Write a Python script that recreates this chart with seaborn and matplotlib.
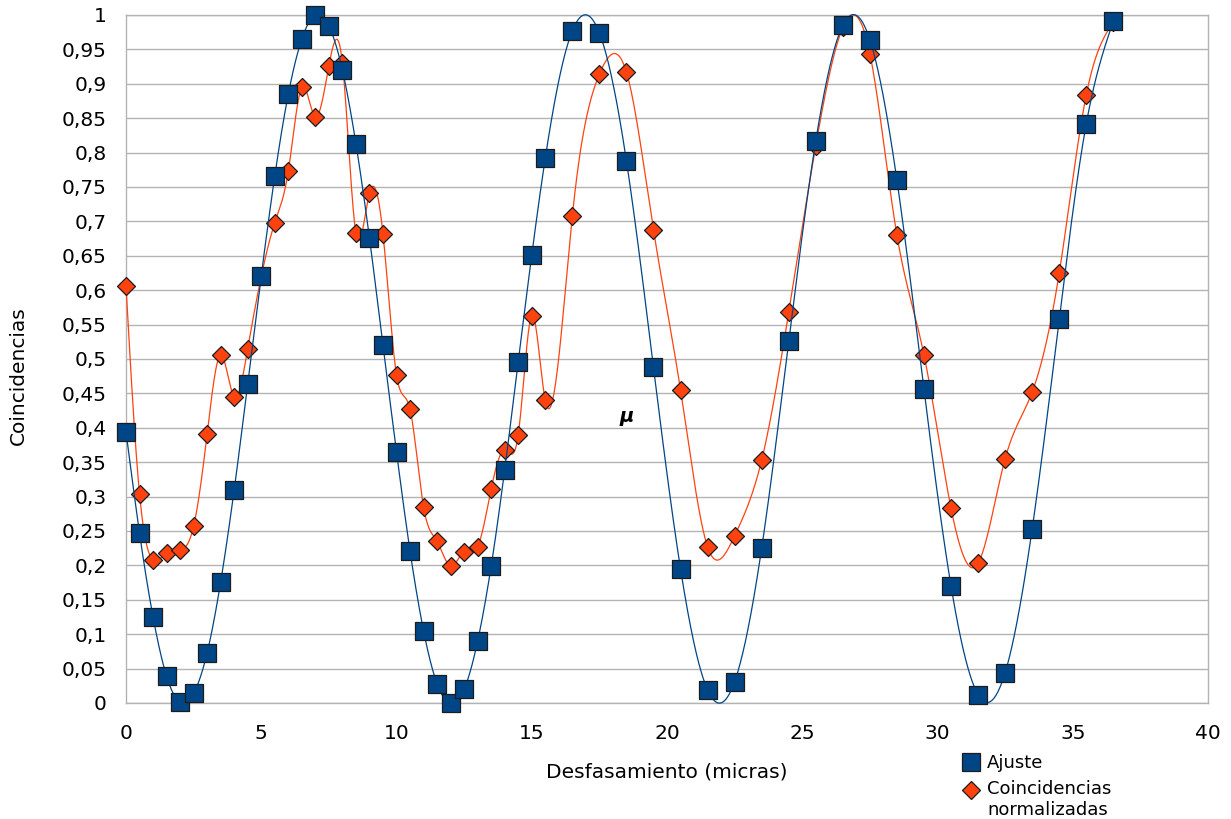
import numpy as np
import pandas as pd
import matplotlib
matplotlib.use("Agg")
import matplotlib.pyplot as plt
from matplotlib.lines import Line2D
from matplotlib.legend_handler import HandlerLine2D
import seaborn as sns

# ---------------- data ----------------
x_vals = [0, 0.5, 1, 1.5, 2, 2.5, 3, 3.5, 4, 4.5, 5, 5.5, 6, 6.5, 7, 7.5, 8, 8.5,
          9, 9.5, 10, 10.5, 11, 11.5, 12, 12.5, 13, 13.5, 14, 14.5, 15, 15.5,
          16.5, 17.5, 18.5, 19.5, 20.5, 21.5, 22.5, 23.5, 24.5, 25.5, 26.5,
          27.5, 28.5, 29.5, 30.5, 31.5, 32.5, 33.5, 34.5, 35.5, 36.5]

ajuste = [0.394, 0.247, 0.125, 0.039, 0.001, 0.014, 0.073, 0.176, 0.310, 0.464,
          0.621, 0.766, 0.885, 0.965, 1.000, 0.984, 0.920, 0.813, 0.676, 0.520,
          0.365, 0.221, 0.105, 0.028, 0.000, 0.020, 0.090, 0.199, 0.339, 0.496,
          0.651, 0.792, 0.977, 0.974, 0.788, 0.488, 0.195, 0.019, 0.031, 0.225,
          0.526, 0.817, 0.985, 0.964, 0.760, 0.456, 0.170, 0.012, 0.044, 0.253,
          0.558, 0.842, 0.991]

coincidencias = [0.606, 0.304, 0.208, 0.218, 0.222, 0.257, 0.391, 0.506, 0.445,
                 0.515, 0.620, 0.698, 0.773, 0.895, 0.852, 0.926, 0.930, 0.683,
                 0.741, 0.682, 0.477, 0.427, 0.285, 0.235, 0.199, 0.220, 0.227,
                 0.311, 0.368, 0.390, 0.563, 0.440, 0.708, 0.914, 0.917, 0.688,
                 0.455, 0.227, 0.243, 0.353, 0.568, 0.810, 0.982, 0.944, 0.680,
                 0.506, 0.283, 0.203, 0.355, 0.452, 0.625, 0.884, 0.990]

series_names = ["Ajuste", "Coincidencias\nnormalizadas"]
x_ticks = [0, 5, 10, 15, 20, 25, 30, 35, 40]
y_ticks = [round(0.05 * i, 2) for i in range(21)]
y_tick_labels = ["0", "0,05", "0,1", "0,15", "0,2", "0,25", "0,3", "0,35", "0,4",
                 "0,45", "0,5", "0,55", "0,6", "0,65", "0,7", "0,75", "0,8",
                 "0,85", "0,9", "0,95", "1"]
x_label = "Desfasamiento (micras)"
y_label = "Coincidencias"
note_text = "μ"
note_pos = (18.5, 0.416)

BLUE = "#004586"
ORANGE = "#ff420e"
EDGE = "#1c1c1c"
GRID = "#b3b3b3"


def natural_spline(x, y, num=3000):
    x = np.asarray(x, float)
    y = np.asarray(y, float)
    n = len(x)
    h = np.diff(x)
    A = np.zeros((n - 2, n - 2))
    r = np.zeros(n - 2)
    for i in range(n - 2):
        A[i, i] = 2 * (h[i] + h[i + 1])
        if i > 0:
            A[i, i - 1] = h[i]
        if i < n - 3:
            A[i, i + 1] = h[i + 1]
        r[i] = 6 * ((y[i + 2] - y[i + 1]) / h[i + 1] - (y[i + 1] - y[i]) / h[i])
    M = np.zeros(n)
    M[1:-1] = np.linalg.solve(A, r)
    t = np.linspace(x[0], x[-1], num)
    idx = np.clip(np.searchsorted(x, t) - 1, 0, n - 2)
    x0, x1 = x[idx], x[idx + 1]
    hh = x1 - x0
    s = (M[idx] * (x1 - t) ** 3 / (6 * hh) + M[idx + 1] * (t - x0) ** 3 / (6 * hh)
         + (y[idx] / hh - M[idx] * hh / 6) * (x1 - t)
         + (y[idx + 1] / hh - M[idx + 1] * hh / 6) * (t - x0))
    return t, s


class ShiftedHandler(HandlerLine2D):
    """Legend handler that raises the marker so it lines up with the first text line."""

    def __init__(self, dy=0.0, **kw):
        super().__init__(**kw)
        self.dy = dy

    def create_artists(self, legend, orig_handle, xdescent, ydescent, width, height,
                       fontsize, trans):
        return super().create_artists(legend, orig_handle, xdescent, ydescent - self.dy,
                                      width, height, fontsize, trans)


sns.set_theme(style="white")
plt.rcParams["font.family"] = ["DejaVu Sans"]

fig = plt.figure(figsize=(12.31, 8.19), dpi=100)
ax = fig.add_axes([126 / 1231, 1 - 703 / 819, (1208 - 126) / 1231, (703 - 15) / 819])

df = pd.DataFrame({"x": x_vals, "ajuste": ajuste, "coinc": coincidencias})

# orange series first (drawn below), then blue
tc, sc = natural_spline(df["x"], df["coinc"])
sns.lineplot(x=tc, y=sc, ax=ax, color=ORANGE, linewidth=0.9, sort=False,
             estimator=None, clip_on=False, zorder=3)
sns.scatterplot(data=df, x="x", y="coinc", ax=ax, marker="D", s=84, color=ORANGE,
                edgecolor=EDGE, linewidth=0.9, clip_on=False, zorder=4)

ta, sa = natural_spline(df["x"], df["ajuste"])
sns.lineplot(x=ta, y=sa, ax=ax, color=BLUE, linewidth=0.9, sort=False,
             estimator=None, clip_on=False, zorder=5)
sns.scatterplot(data=df, x="x", y="ajuste", ax=ax, marker="s", s=172, color=BLUE,
                edgecolor=EDGE, linewidth=0.9, clip_on=False, zorder=6)

ax.set_xlim(0, 40)
ax.set_ylim(0, 1)
ax.set_xticks(x_ticks)
ax.set_xticklabels([str(v) for v in x_ticks])
ax.set_yticks(y_ticks)
ax.set_yticklabels(y_tick_labels)
ax.tick_params(axis="both", which="major", direction="out", length=8, width=1,
               color=GRID, labelsize=14.5, labelcolor="black")
ax.tick_params(axis="y", pad=6)
ax.tick_params(axis="x", pad=7)

ax.yaxis.grid(True, color=GRID, linewidth=1.0)
ax.xaxis.grid(False)
ax.set_axisbelow(True)
for side in ["left", "right", "bottom", "top"]:
    ax.spines[side].set_color(GRID)
    ax.spines[side].set_linewidth(1.0)
    ax.spines[side].set_visible(True)

ax.set_xlabel(x_label, fontsize=14.5, color="black")
ax.set_ylabel(y_label, fontsize=14.5, color="black")
ax.xaxis.set_label_coords(0.5, -(772 - 703) / 688)
ax.yaxis.set_label_coords(-(126 - 18) / 1082, (703 - 376) / 688)
ax.xaxis.label.set_va("center")
ax.yaxis.label.set_va("center")

ax.text(note_pos[0], note_pos[1], note_text, fontsize=14, fontweight="bold",
        style="italic", ha="center", va="center", color="black", zorder=7)

h_sq = Line2D([], [], linestyle="none", marker="s", markersize=13, markerfacecolor=BLUE,
              markeredgecolor=EDGE, markeredgewidth=0.9)
h_di = Line2D([], [], linestyle="none", marker="D", markersize=9.2, markerfacecolor=ORANGE,
              markeredgecolor=EDGE, markeredgewidth=0.9)
leg = fig.legend([h_sq, h_di], series_names, loc="upper left",
                 bbox_to_anchor=(962 / 1231, 1 - 754 / 819),
                 bbox_transform=fig.transFigure, frameon=False, fontsize=13,
                 borderpad=0, borderaxespad=0, handlelength=1.0,
                 handletextpad=0.4, labelspacing=0.45, labelcolor="black",
                 handler_map={h_di: ShiftedHandler(dy=14.0)})

fig.savefig("out.png", dpi=100)
